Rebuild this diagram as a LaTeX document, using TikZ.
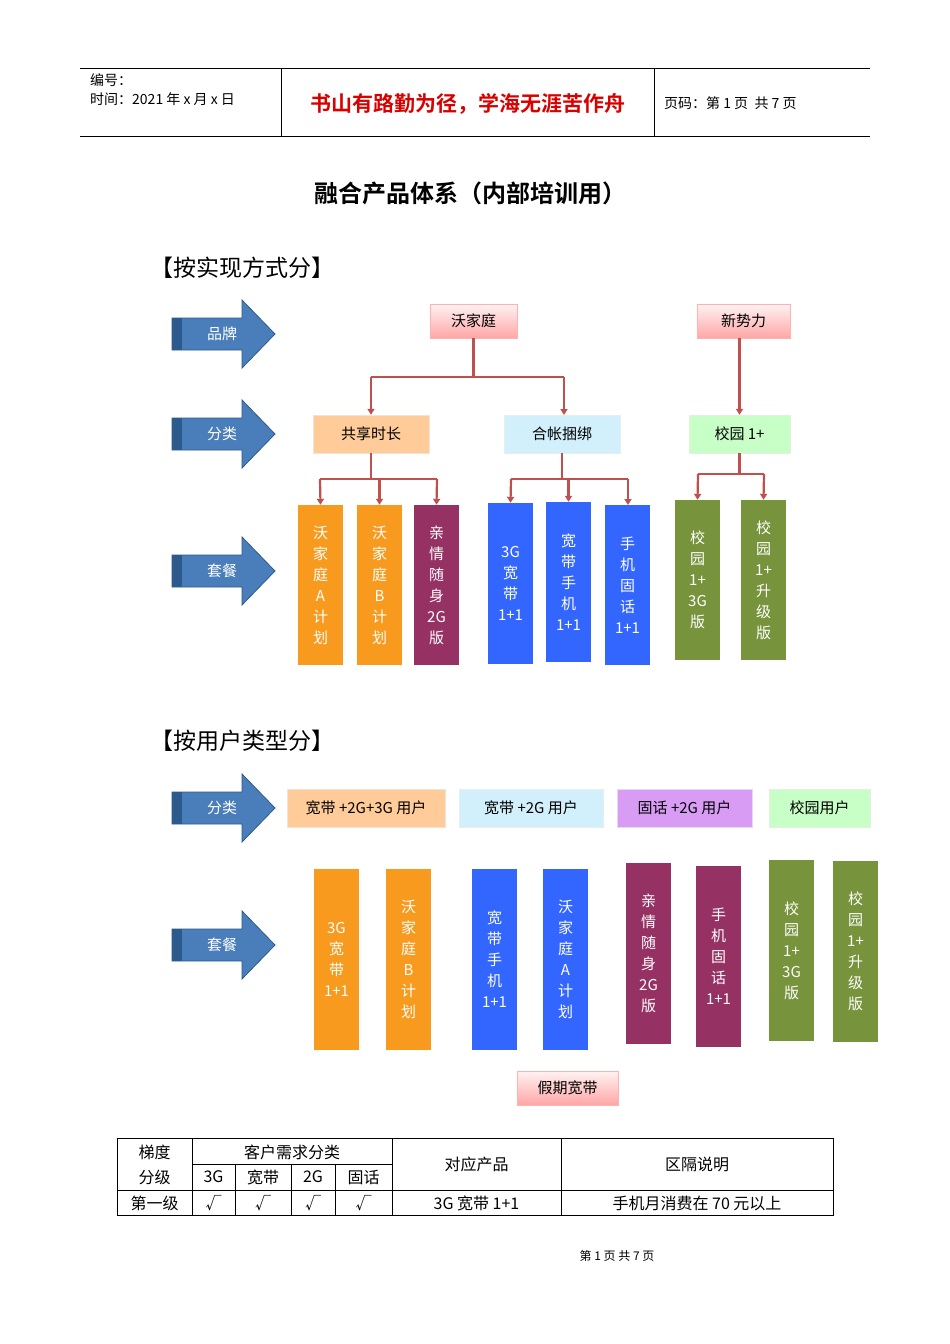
\documentclass[tikz,border=0pt]{standalone}
\usepackage{fontspec}
\setmainfont{Noto Sans CJK SC}
\newfontfamily\cjkb{Noto Sans CJK SC Bold}
\usetikzlibrary{arrows.meta}
\definecolor{barrow}{HTML}{4A7EBB}
\definecolor{barrowd}{HTML}{2C5A8C}
\definecolor{conn}{HTML}{C0504D}
\definecolor{orng}{HTML}{F79A1E}
\definecolor{mar}{HTML}{953163}
\definecolor{blu}{HTML}{3366FF}
\definecolor{grn}{HTML}{77933C}
\definecolor{vio}{HTML}{D99CF5}
\tikzset{
 big/.style={arrows={-Triangle[width=7pt,length=6pt]},draw=conn,line width=2.2pt},
 col/.style={draw=none,fill=#1,text=white,align=center,font=\fontsize{15}{21}\selectfont,inner sep=0pt},
 lab/.style={draw=#1!80!black!30,line width=0.4pt,font=\fontsize{15}{18}\selectfont,inner sep=0pt},
 pinkbox/.style={draw=red!30,top color=white!80!pink,bottom color=red!35!white,font=\fontsize{15}{18}\selectfont,inner sep=0pt},
 tx/.style={font=\fontsize{16}{18}\selectfont,inner sep=0pt},
}
\newcommand{\barr}[3]{% name, center y, text
 \fill[barrow,draw=barrowd,line width=0.8pt] (172,#2-16)--(242,#2-16)--(242,#2-34)--(275,#2)--(242,#2+34)--(242,#2+16)--(172,#2+16)--cycle;
 \fill[barrowd] (172,#2-16) rectangle (182,#2+16);
 \node[text=white,font=\fontsize{15}{18}\selectfont] (#1) at (222,#2) {#3};}
\newcommand{\colbox}[7]{% name,x1,y1,x2,y2,color,text
 \node[col=#6,minimum width=#4pt-#2pt,minimum height=#5pt-#3pt] (#1) at ({(#2+#4)/2},{(#3+#5)/2}) {#7};}
\newcommand{\labbox}[7]{%
 \node[lab=#6,fill=#6,minimum width=#4pt-#2pt,minimum height=#5pt-#3pt] (#1) at ({(#2+#4)/2},{(#3+#5)/2}) {#7};}
\begin{document}
\begin{tikzpicture}[x=1pt,y=-1pt]
\useasboundingbox (0,0) rectangle (950,1344);
\fill[white] (0,0) rectangle (950,1344);
% header
\draw[line width=0.6pt] (80,68)--(870,68) (80,136)--(870,136) (281,68)--(281,136) (654,68)--(654,136);
\node[tx,anchor=west,font=\fontsize{14}{16}\selectfont] (h1) at (90,80) {编号：};
\node[tx,anchor=west,font=\fontsize{14}{16}\selectfont] (h2) at (90,99) {时间：2021 年 x 月 x 日};
\node[tx,text=red!85!black,font=\cjkb\fontsize{21}{24}\selectfont] (h3) at (468,104) {书山有路勤为径，学海无涯苦作舟};
\node[tx,anchor=west,font=\fontsize{14}{16}\selectfont] (h4) at (664,103) {页码：第 1 页\ \ 共 7 页};
\node[tx,font=\cjkb\fontsize{24}{28}\selectfont] (title) at (470,193) {融合产品体系（内部培训用）};
\node[tx,anchor=west,font=\fontsize{23}{26}\selectfont] (s1) at (150,268) {【按实现方式分】};
\node[tx,anchor=west,font=\fontsize{23}{26}\selectfont] (s2) at (150,741) {【按用户类型分】};
% arrows
\barr{a1}{334}{品牌}\barr{a2}{434}{分类}\barr{a3}{571}{套餐}\barr{a4}{808}{分类}\barr{a5}{945}{套餐}
% top boxes
\node[pinkbox,minimum width=87pt,minimum height=34pt] (wjt) at (473.5,321) {沃家庭};
\node[pinkbox,minimum width=93pt,minimum height=34pt] (xsl) at (743.5,321) {新势力};
\labbox{gx}{313}{415}{429}{453}{orange!40!white}{共享时长}
\labbox{hz}{504}{415}{620}{453}{cyan!18!white}{合帐捆绑}
\labbox{xy}{689}{415}{790}{453}{green!22!white}{校园 1+}
% columns top
\colbox{c1}{298}{505}{343}{665}{orng}{沃\\家\\庭\\A\\计\\划}
\colbox{c2}{357}{505}{402}{665}{orng}{沃\\家\\庭\\B\\计\\划}
\colbox{c3}{414}{505}{459}{665}{mar}{亲\\情\\随\\身\\2G\\版}
\colbox{c4}{488}{503}{533}{664}{blu}{3G\\宽\\带\\1+1}
\colbox{c5}{546}{502}{591}{662}{blu}{宽\\带\\手\\机\\1+1}
\colbox{c6}{605}{505}{650}{665}{blu}{手\\机\\固\\话\\1+1}
\colbox{c7}{675}{500}{720}{660}{grn}{校\\园\\1+\\3G\\版}
\colbox{c8}{741}{500}{786}{660}{grn}{校\\园\\1+\\升\\级\\版}
% connectors
\draw[conn,line width=2.2pt] (wjt.south)--(473.5,377) coordinate (j1);
\draw[conn,line width=2.2pt] (371,377)--(564,377);
\draw[big] (371,377)--(gx.north);
\draw[big] (564,377)--(564,415);
\draw[big] (xsl.south -| xy.north)--(xy.north);
\draw[conn,line width=2.2pt] (gx.south)--(371,479) (320,479)--(437,479);
\draw[big] (320,479)--(c1.north);
\draw[big] (379.5,479)--(c2.north);
\draw[big] (437,479)--(c3.north);
\draw[conn,line width=2.2pt] (hz.south)--(562,479) (511,479)--(628,479);
\draw[big] (511,479)--(c4.north);
\draw[big] (568.5,479)--(c5.north);
\draw[big] (628,479)--(628,505);
\draw[conn,line width=2.2pt] (xy.south)--(739.5,474) (698,474)--(764,474);
\draw[big] (698,474)--(c7.north);
\draw[big] (764,474)--(c8.north);
% second section
\labbox{u1}{287}{789}{445}{827}{orange!40!white}{宽带 +2G+3G 用户}
\labbox{u2}{459}{789}{603}{827}{cyan!18!white}{宽带 +2G 用户}
\labbox{u3}{617}{789}{752}{827}{vio}{固话 +2G 用户}
\labbox{u4}{769}{789}{870}{827}{green!22!white}{校园用户}
\colbox{d1}{314}{869}{359}{1050}{orng}{3G\\宽\\带\\1+1}
\colbox{d2}{386}{869}{431}{1050}{orng}{沃\\家\\庭\\B\\计\\划}
\colbox{d3}{472}{869}{517}{1050}{blu}{宽\\带\\手\\机\\1+1}
\colbox{d4}{543}{869}{588}{1050}{blu}{沃\\家\\庭\\A\\计\\划}
\colbox{d5}{626}{863}{671}{1044}{mar}{亲\\情\\随\\身\\2G\\版}
\colbox{d6}{696}{866}{741}{1047}{mar}{手\\机\\固\\话\\1+1}
\colbox{d7}{769}{860}{814}{1041}{grn}{校\\园\\1+\\3G\\版}
\colbox{d8}{833}{861}{878}{1042}{grn}{校\\园\\1+\\升\\级\\版}
\node[pinkbox,minimum width=101pt,minimum height=34pt] (jq) at (567.5,1088) {假期宽带};
% table
\draw[line width=0.6pt] (117,1138) rectangle (833,1215);
\draw[line width=0.6pt] (117,1190)--(833,1190) (192,1164)--(392,1164)
 (192,1138)--(192,1215) (392,1138)--(392,1215) (561,1138)--(561,1215)
 (235,1164)--(235,1215) (291,1164)--(291,1215) (335,1164)--(335,1215);
\tikzset{tt/.style={tx,font=\fontsize{16}{18}\selectfont}}
\node[tt] (t1) at (154.5,1152) {梯度};
\node[tt] (t2) at (154.5,1177) {分级};
\node[tt] (t3) at (292,1152) {客户需求分类};
\node[tt] (t4) at (213.5,1177) {3G};
\node[tt] (t5) at (263,1177) {宽带};
\node[tt] (t6) at (313,1177) {2G};
\node[tt] (t7) at (363.5,1177) {固话};
\node[tt] (t8) at (476.5,1164) {对应产品};
\node[tt] (t9) at (697,1164) {区隔说明};
\node[tt] (t10) at (154.5,1203) {第一级};
\node[tt] (k1) at (213.5,1203) {√};
\node[tt] (k2) at (263,1203) {√};
\node[tt] (k3) at (313,1203) {√};
\node[tt] (k4) at (363.5,1203) {√};
\node[tt] (t11) at (476.5,1203) {3G 宽带 1+1};
\node[tt] (t12) at (697,1203) {手机月消费在 70 元以上};
\node[tx,font=\fontsize{12}{14}\selectfont] (ft) at (617,1256) {第 1 页 共 7 页};
\end{tikzpicture}
\end{document}
